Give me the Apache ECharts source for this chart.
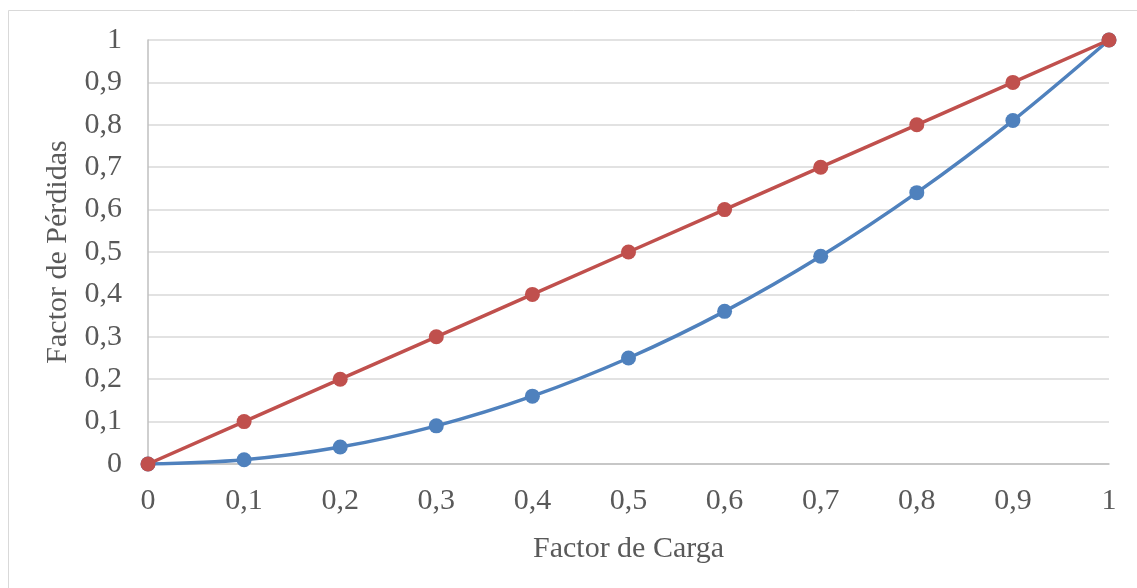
<!DOCTYPE html>
<html>
<head>
<meta charset="utf-8">
<script src="https://cdn.jsdelivr.net/npm/echarts@6/dist/echarts.min.js"></script>
<style>
html,body{margin:0;padding:0;background:#fff;}
#chart{width:1137px;height:588px;}
</style>
</head>
<body>
<div id="chart"></div>
<script>
const factorCarga = [0, 0.1, 0.2, 0.3, 0.4, 0.5, 0.6, 0.7, 0.8, 0.9, 1];
const perdidasCuadratica = [0, 0.01, 0.04, 0.09, 0.16, 0.25, 0.36, 0.49, 0.64, 0.81, 1];
const perdidasLineal = [0, 0.1, 0.2, 0.3, 0.4, 0.5, 0.6, 0.7, 0.8, 0.9, 1];
const xTitle = 'Factor de Carga';
const yTitle = 'Factor de Pérdidas';

const FONT = '"Liberation Serif", "Times New Roman", serif';
const TXT = '#595959';
const fmt = v => String(Math.round(v * 10) / 10).replace('.', ',');

const chart = echarts.init(document.getElementById('chart'), null, {renderer: 'canvas'});
chart.setOption({
  animation: false,
  backgroundColor: '#ffffff',
  graphic: [{
    type: 'rect',
    shape: {x: 8.5, y: 10.5, width: 1200, height: 700},
    style: {fill: 'none', stroke: '#d9d9d9', lineWidth: 1},
    silent: true, z: -1
  }],
  grid: {left: 148, right: 28, top: 40, bottom: 124, containLabel: false},
  xAxis: {
    type: 'value', min: 0, max: 1, interval: 0.1,
    name: xTitle, nameLocation: 'middle', nameGap: 70,
    nameTextStyle: {fontFamily: FONT, fontSize: 30, color: TXT},
    axisLine: {show: true, lineStyle: {color: '#bfbfbf', width: 1.5}},
    axisTick: {show: false},
    splitLine: {show: false},
    axisLabel: {fontFamily: FONT, fontSize: 30, color: TXT, margin: 22, formatter: fmt}
  },
  yAxis: {
    type: 'value', min: 0, max: 1, interval: 0.1,
    name: yTitle, nameLocation: 'middle', nameGap: 74,
    nameTextStyle: {fontFamily: FONT, fontSize: 30, color: TXT},
    axisLine: {show: true, lineStyle: {color: '#bfbfbf', width: 1.5}},
    axisTick: {show: false},
    splitLine: {show: true, lineStyle: {color: '#d9d9d9', width: 1.5}},
    axisLabel: {fontFamily: FONT, fontSize: 30, color: TXT, margin: 26, formatter: fmt}
  },
  series: [
    {
      type: 'line', name: 'Cuadrática',
      data: factorCarga.map((x, i) => [x, perdidasCuadratica[i]]),
      smooth: 0.35,
      symbol: 'circle', symbolSize: 15,
      lineStyle: {color: '#4f81bd', width: 3.5},
      itemStyle: {color: '#4f81bd'},
      z: 2
    },
    {
      type: 'line', name: 'Lineal',
      data: factorCarga.map((x, i) => [x, perdidasLineal[i]]),
      symbol: 'circle', symbolSize: 15,
      lineStyle: {color: '#c0504d', width: 3.5},
      itemStyle: {color: '#c0504d'},
      z: 3
    }
  ]
});
</script>
</body>
</html>
